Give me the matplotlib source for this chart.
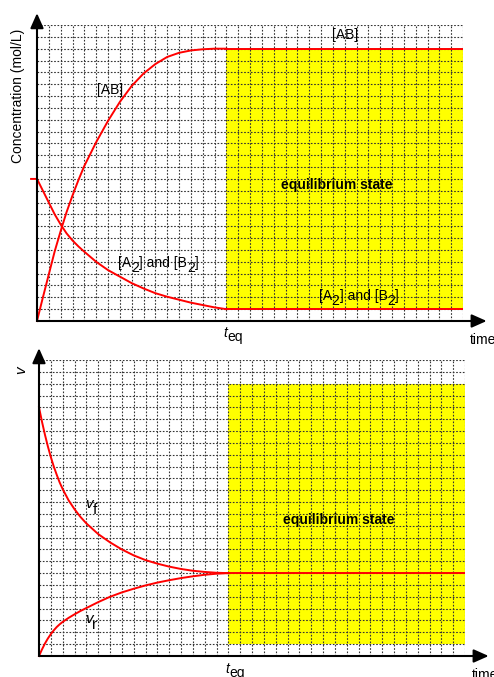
import matplotlib
matplotlib.use("Agg")
from matplotlib import pyplot as plt
from matplotlib.transforms import offset_copy

plt.rcParams['font.family'] = ['Liberation Sans', 'DejaVu Sans']
plt.rcParams['mathtext.fontset'] = 'custom'
plt.rcParams['mathtext.rm'] = 'Liberation Sans'
plt.rcParams['mathtext.it'] = 'Liberation Sans:italic'

# ---- data (grid units) ----
t_eq = 16
t_end = 36
n_rows = 25

# top chart: concentrations
t_ab = [0, 0.5, 1, 1.5, 2, 2.5, 3, 3.5, 4, 5, 6, 7, 8, 9, 10, 11, 12, 13, 14, 15, 16]
ab_conc = [0, 2.0, 3.95, 5.9, 7.6, 9.2, 10.6, 11.9, 13.1, 15.1, 16.9, 18.5, 19.85, 20.9, 21.7,
           22.3, 22.65, 22.85, 22.95, 23.0, 23.0]
t_a2 = [-0.5, 0, 0.5, 1, 1.5, 2, 2.5, 3, 3.5, 4, 5, 6, 7, 8, 9, 10, 11, 12, 13, 14, 15, 16]
a2_conc = [12, 12, 11.0, 10.0, 9.0, 8.15, 7.4, 6.8, 6.3, 5.85, 5.0, 4.3, 3.75, 3.2, 2.75, 2.35,
           2.05, 1.8, 1.55, 1.35, 1.15, 1.0]
ab_eq = 23
a2_eq = 1

# bottom chart: reaction rates
t_rate = [0, 0.25, 0.5, 0.75, 1, 1.25, 1.5, 1.75, 2, 2.5, 3, 3.5, 4, 5, 6, 7, 8, 9, 10, 11, 12,
          13, 14, 15, 16]
v_f = [21, 19.8, 18.7, 17.7, 16.8, 16.0, 15.3, 14.65, 14.1, 13.15, 12.4, 11.75, 11.2, 10.3, 9.6,
       9.0, 8.5, 8.1, 7.8, 7.55, 7.35, 7.2, 7.1, 7.03, 7.0]
v_r = [0, 0.55, 1.05, 1.48, 1.85, 2.17, 2.45, 2.68, 2.88, 3.22, 3.52, 3.8, 4.05, 4.55, 5.0, 5.37,
       5.68, 5.96, 6.2, 6.4, 6.58, 6.73, 6.86, 6.95, 7.0]
v_eq = 7

eq_box = (16, 1, 20, 22)  # x, y, w, h of yellow area

fig = plt.figure(figsize=(4.94, 6.77), dpi=100)
renderer = fig.canvas.get_renderer()


def sub_text(ax, x, y, parts, size=10, drop=5):
    """write text with full size subscripts, centred on x, baseline at y"""
    pieces = []
    for s, kind in parts:
        style = 'italic' if kind == 'it' else 'normal'
        t = ax.text(x, y, s, fontsize=size, style=style, ha='left', va='baseline', zorder=6)
        pieces.append((t, drop if kind == 'sub' else 0))
    widths = [t.get_window_extent(renderer).width for t, _ in pieces]
    off = -sum(widths) / 2
    for (t, dy), w in zip(pieces, widths):
        t.set_transform(offset_copy(ax.transData, fig=fig, x=off, y=-dy, units='dots'))
        off += w


def base_axes(rect):
    ax = fig.add_axes(rect)
    ax.set_xlim(0, t_end)
    ax.set_ylim(0, n_rows)
    ax.axis('off')
    # yellow equilibrium zone
    x, y, w, h = eq_box
    ax.add_patch(plt.Rectangle((x, y), w, h, facecolor='#ffff00', edgecolor='none', zorder=1))
    # dotted grid
    ax.vlines(range(1, t_end + 1), 0, n_rows, colors='#333333', linestyles=(0, (1.5, 1.5)), lw=0.8, zorder=2)
    ax.hlines(range(1, n_rows + 1), 0, t_end, colors='#333333', linestyles=(0, (1.5, 1.5)), lw=0.8, zorder=2)
    # arrows for axes
    arr = dict(arrowstyle='-|>,head_length=0.9,head_width=0.4', color='black', lw=1.5, shrinkA=0, shrinkB=0)
    ax.annotate('', xy=(38.0, 0), xytext=(0, 0), arrowprops=arr, annotation_clip=False, zorder=5)
    ax.annotate('', xy=(0, 26.0), xytext=(0, 0), arrowprops=arr, annotation_clip=False, zorder=5)
    ax.text(36.6, -1.6, 'time', fontsize=10, ha='left', va='center')
    ax.text(25.3, 11.5, 'equilibrium state', fontsize=10, fontweight='bold', ha='center', va='center', zorder=6)
    return ax


# top panel
ax1 = base_axes([37 / 494, 1 - 321 / 677, 426 / 494, 296 / 677])
ax1.plot(t_ab, ab_conc, color='red', lw=1.4, zorder=4, clip_on=False)
ax1.plot([t_eq, t_end], [ab_eq, ab_eq], color='red', lw=1.4, zorder=4)
ax1.plot(t_a2, a2_conc, color='red', lw=1.4, zorder=4, clip_on=False)
ax1.plot([t_eq, t_end], [a2_eq, a2_eq], color='red', lw=1.4, zorder=4)
ax1.text(6.2, 19.5, '[AB]', fontsize=10, ha='center', va='center', zorder=6)
ax1.text(26.0, 24.15, '[AB]', fontsize=10, ha='center', va='center', zorder=6)
sub_text(ax1, 10.25, 4.55, [('[A', 'n'), ('2', 'sub'), ('] and [B', 'n'), ('2', 'sub'), (']', 'n')])
sub_text(ax1, 27.2, 1.8, [('[A', 'n'), ('2', 'sub'), ('] and [B', 'n'), ('2', 'sub'), (']', 'n')])
sub_text(ax1, 16.6, -1.35, [('t', 'it'), ('eq', 'sub')], drop=4)
ax1.text(-1.6, 19.0, 'Concentration (mol/L)', fontsize=10, rotation=90, ha='center', va='center')

# bottom panel
ax2 = base_axes([39 / 494, 1 - 656 / 677, 426 / 494, 296 / 677])
ax2.plot(t_rate, v_f, color='red', lw=1.4, zorder=4, clip_on=False)
ax2.plot(t_rate, v_r, color='red', lw=1.4, zorder=4, clip_on=False)
ax2.plot([t_eq, t_end], [v_eq, v_eq], color='red', lw=1.4, zorder=4)
sub_text(ax2, 4.4, 12.5, [('v', 'it'), ('f', 'sub')], size=11, drop=6)
sub_text(ax2, 4.4, 2.8, [('v', 'it'), ('r', 'sub')], size=11, drop=6)
sub_text(ax2, 16.6, -1.44, [('t', 'it'), ('eq', 'sub')], drop=4)
ax2.text(-1.44, 24.15, r'$v$', fontsize=11, rotation=90, ha='center', va='center')

fig.savefig('out.png', dpi=100)
